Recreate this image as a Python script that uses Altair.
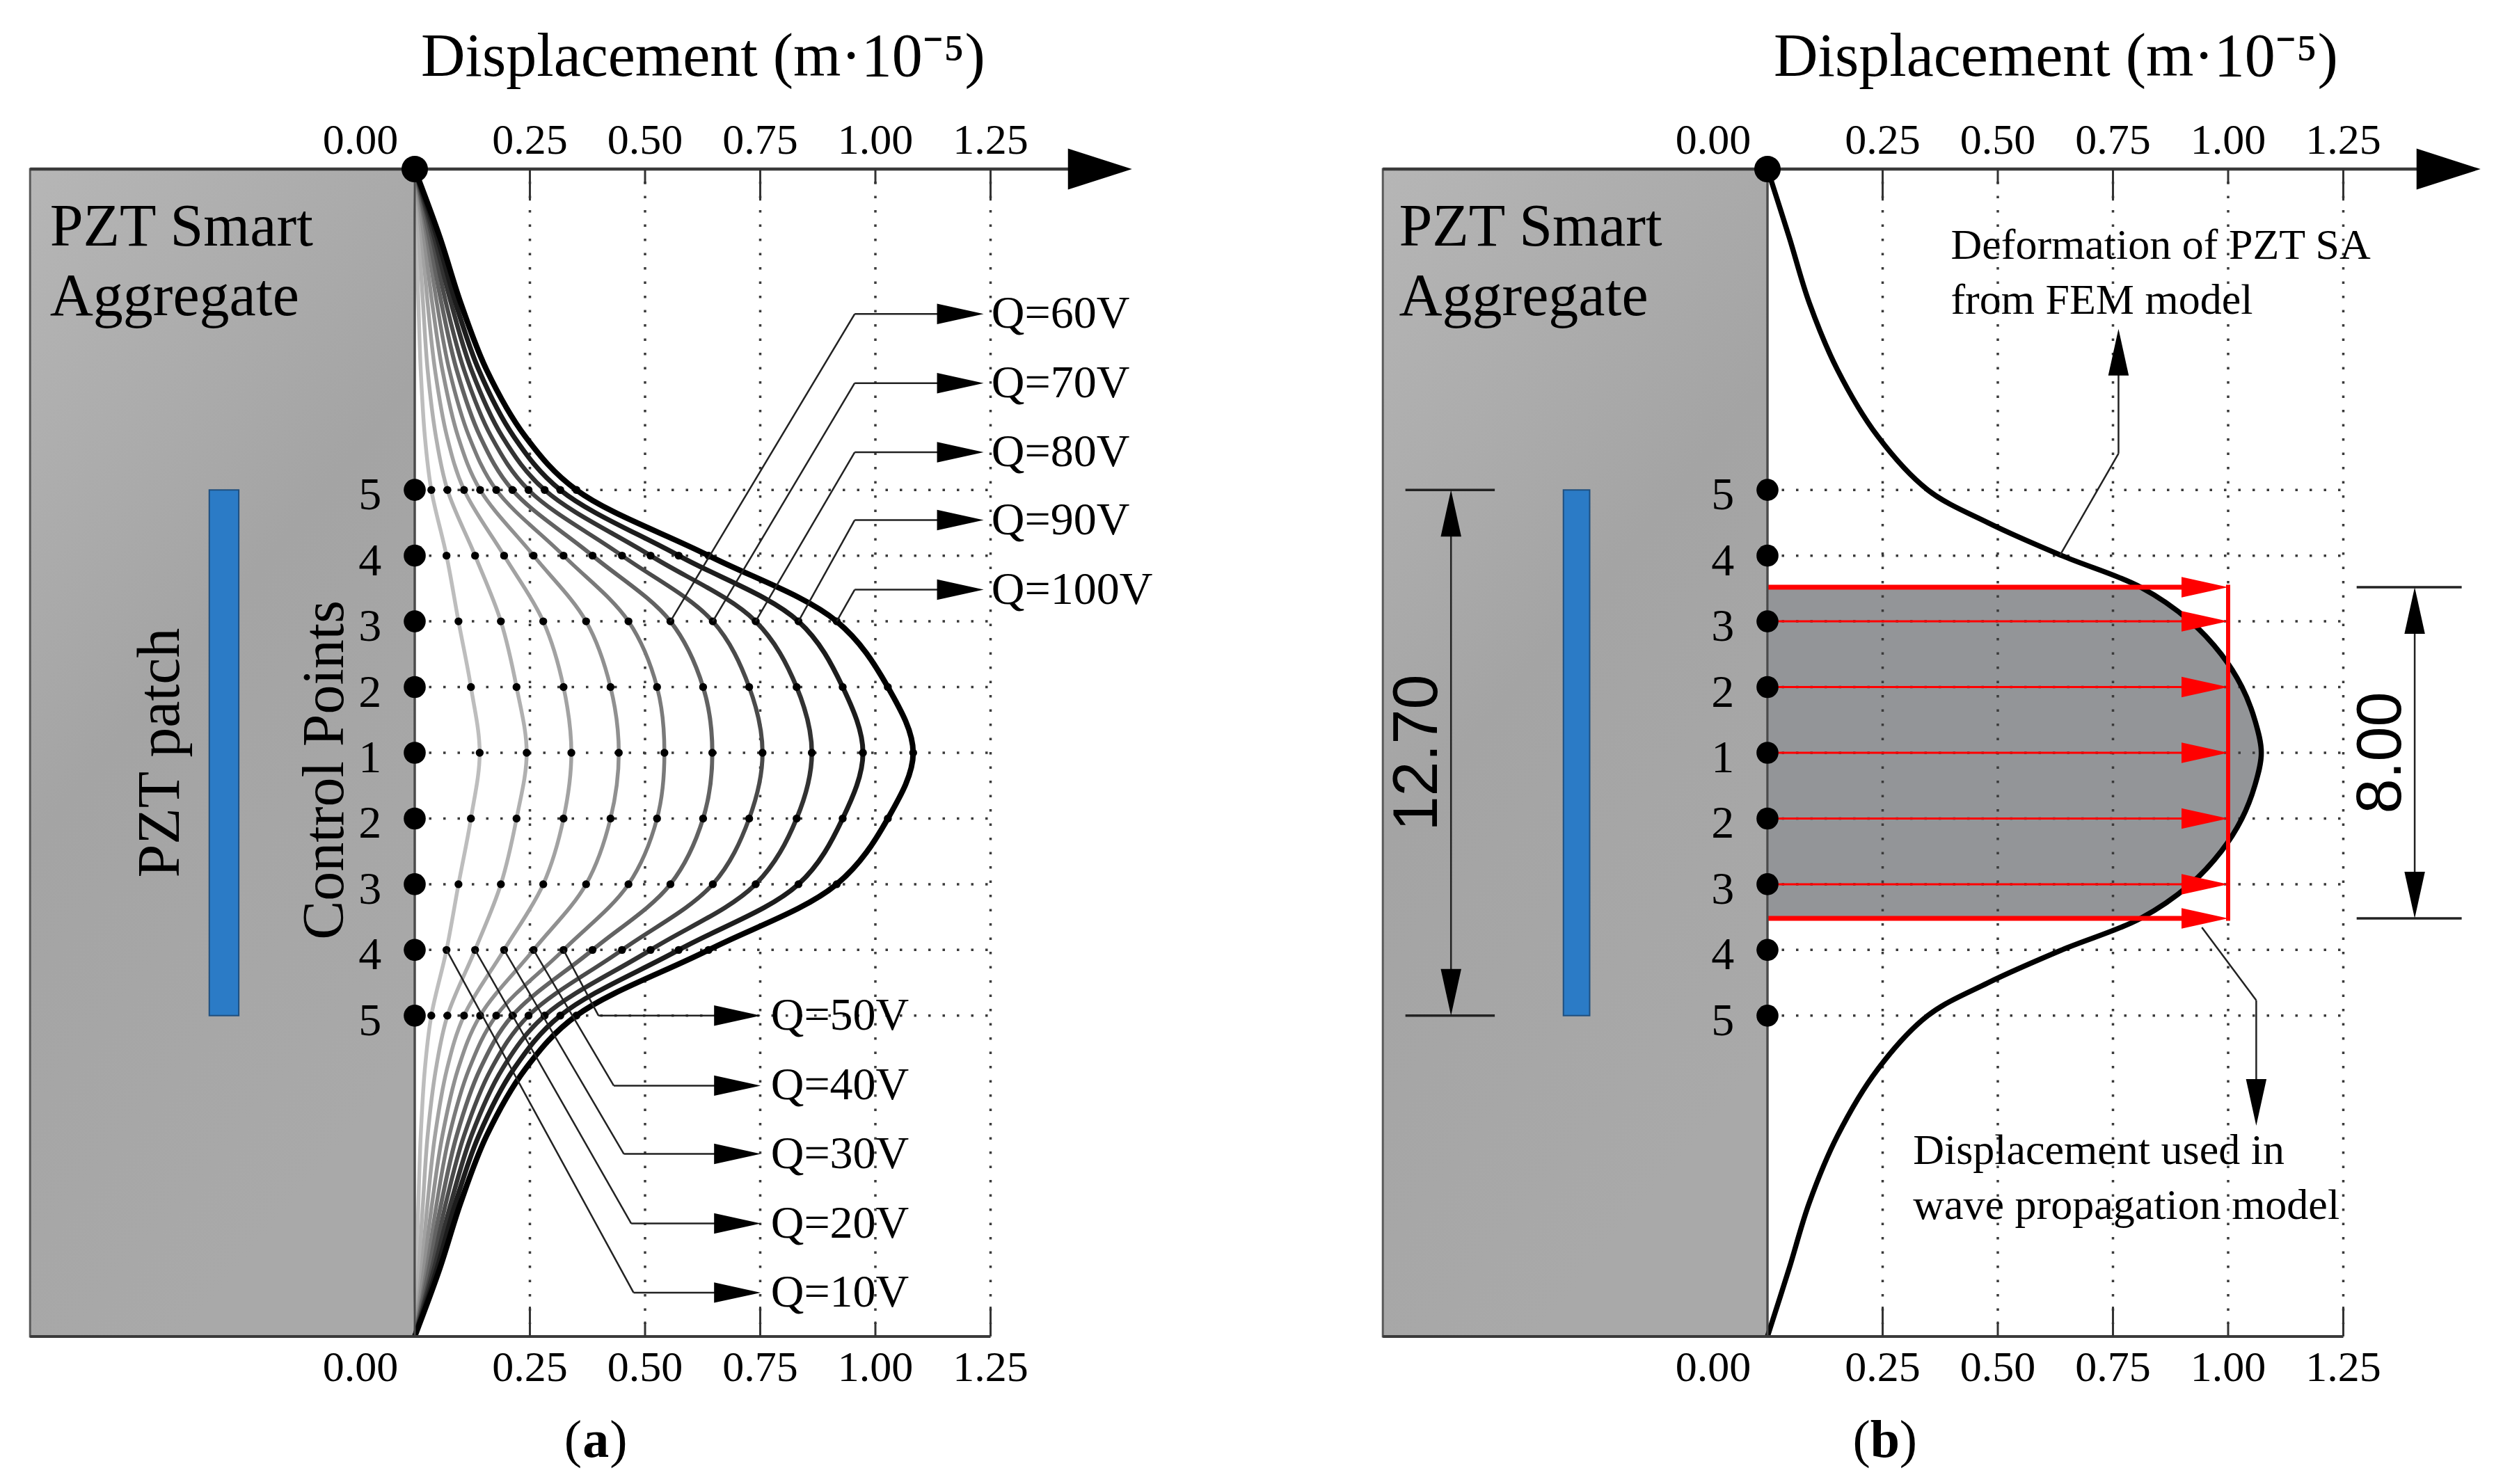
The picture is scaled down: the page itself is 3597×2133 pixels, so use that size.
import altair as alt
import pandas as pd

# ------------------------------------------------------------------
# DATA
# ------------------------------------------------------------------
Q_NAMES = ["Q=10V", "Q=20V", "Q=30V", "Q=40V", "Q=50V",
           "Q=60V", "Q=70V", "Q=80V", "Q=90V", "Q=100V"]

# heights (mm from the centre of the SA) at which the curves were read, top half
# (the curves are symmetric about the centre line, control point 1)
Y_READ = [14.1, 12.47, 10.86, 9.25, 7.64, 6.35, 4.7625, 3.175, 1.5875, 0.0]

# displacement (m*10^-5) at those heights, panel (a)
Q10 = [0.0, 0.004, 0.008, 0.013, 0.022, 0.036, 0.069, 0.095, 0.122, 0.141]
Q20 = [0.0, 0.009, 0.018, 0.028, 0.046, 0.071, 0.131, 0.187, 0.221, 0.243]
Q30 = [0.0, 0.015, 0.028, 0.044, 0.070, 0.107, 0.194, 0.279, 0.323, 0.340]
Q40 = [0.0, 0.020, 0.038, 0.060, 0.094, 0.142, 0.258, 0.372, 0.425, 0.443]
Q50 = [0.0, 0.026, 0.048, 0.075, 0.118, 0.177, 0.323, 0.464, 0.526, 0.542]
Q60 = [0.0, 0.031, 0.058, 0.091, 0.142, 0.212, 0.386, 0.555, 0.626, 0.646]
Q70 = [0.0, 0.037, 0.068, 0.107, 0.166, 0.247, 0.450, 0.647, 0.726, 0.755]
Q80 = [0.0, 0.042, 0.079, 0.123, 0.190, 0.282, 0.512, 0.740, 0.829, 0.862]
Q90 = [0.0, 0.048, 0.089, 0.139, 0.215, 0.316, 0.573, 0.833, 0.929, 0.973]
Q100 = [0.0, 0.054, 0.100, 0.156, 0.240, 0.351, 0.638, 0.916, 1.027, 1.082]
CURVES_A = [Q10, Q20, Q30, Q40, Q50, Q60, Q70, Q80, Q90, Q100]

# panel (b): deformation of the PZT SA from the FEM model (top half, symmetric)
B_Y = [14.1, 12.46, 10.86, 9.25, 7.65, 6.35, 5.56, 4.7625, 4.0, 3.175, 2.38,
       1.5875, 0.79, 0.0]
B_X = [0.0, 0.047, 0.091, 0.152, 0.239, 0.348, 0.478, 0.639, 0.810, 0.918, 0.985,
       1.030, 1.058, 1.072]

CP_LABELS = ["5", "4", "3", "2", "1", "2", "3", "4", "5"]
CP_MM = [6.35, 4.7625, 3.175, 1.5875, 0.0, -1.5875, -3.175, -4.7625, -6.35]

TICK_VALUES = [0.0, 0.25, 0.5, 0.75, 1.0, 1.25]
TICK_LABELS = ["0.00", "0.25", "0.50", "0.75", "1.00", "1.25"]

PATCH_LEN = 12.70      # mm
USED_LEN = 8.00        # mm
USED_DISP = 1.00       # m*10^-5
TITLE = "Displacement (m\u00b710\u207b\u2075)"

# ------------------------------------------------------------------
# STYLE / LAYOUT
# ------------------------------------------------------------------
SERIF = "Liberation Serif"
SANS = "Liberation Sans"
CURVE_COLORS = ["#bdbdbd", "#b0b0b0", "#a2a2a2", "#909090", "#7a7a7a",
                "#626262", "#4a4a4a", "#323232", "#1c1c1c", "#000000"]
CURVE_WIDTHS = [5.5, 5.5, 5.5, 5.5, 5.5, 6, 6, 6.5, 7, 8]
PXU = 662.0
PXMM = 59.5
H = 2117
W_A, W_B = 1780, 1800
ZERO_A, ZERO_B = 588, 752
MID = 1074
YS = alt.Scale(domain=[-(H - MID) / PXMM, MID / PXMM], nice=False, zero=False)
XS_A = alt.Scale(domain=[-ZERO_A / PXU, (W_A - ZERO_A) / PXU], nice=False, zero=False)
XS_B = alt.Scale(domain=[-ZERO_B / PXU, (W_B - ZERO_B) / PXU], nice=False, zero=False)
TOP, BOT = 14.1, -14.1
SLAB_LEFT = -0.835
ARROW = "M 0 0 L -1 -0.22 L -1 0.22 Z"
ARROW_SIZE = 134 ** 2
AXIS_ARROW = "M 0 0 L -1 -0.32 L -1 0.32 Z"
AXIS_ARROW_SIZE = 184 ** 2
DOTTED = dict(strokeDash=[3.5, 17], strokeWidth=3.5, color="#3a3a3a")
LEADER = dict(color="#222222", strokeWidth=2.5)
RED = "#ff0000"
SLAB_FILL = alt.LinearGradient(
    gradient="linear", x1=0, y1=0, x2=0.4, y2=1,
    stops=[alt.GradientStop(color="#b6b6b6", offset=0),
           alt.GradientStop(color="#a4a4a4", offset=0.5),
           alt.GradientStop(color="#a9a9a9", offset=1)])


def D(**cols):
    n = max(len(v) if isinstance(v, (list, tuple)) else 1 for v in cols.values())
    return pd.DataFrame({k: (list(v) if isinstance(v, (list, tuple)) else [v] * n)
                         for k, v in cols.items()})


def enc(xs, df):
    e = {"x": alt.X("x:Q", scale=xs, axis=None), "y": alt.Y("y:Q", scale=YS, axis=None)}
    if "x2" in df.columns:
        e["x2"] = alt.X2("x2:Q")
    if "y2" in df.columns:
        e["y2"] = alt.Y2("y2:Q")
    return e


def rule(xs, df, **kw):
    return alt.Chart(df).mark_rule(**kw).encode(**enc(xs, df))


def rect(xs, df, **kw):
    return alt.Chart(df).mark_rect(**kw).encode(**enc(xs, df))


def dot(xs, df, **kw):
    kw.setdefault("filled", True)
    kw.setdefault("opacity", 1)
    kw.setdefault("color", "black")
    kw.setdefault("strokeWidth", 0)
    return alt.Chart(df).mark_point(**kw).encode(**enc(xs, df))


def text(xs, df, **kw):
    kw.setdefault("font", SERIF)
    kw.setdefault("color", "black")
    kw.setdefault("baseline", "alphabetic")
    e = enc(xs, df)
    e["text"] = alt.Text("t:N")
    return alt.Chart(df).mark_text(**kw).encode(**e)


def line(xs, df, **kw):
    e = enc(xs, df)
    e["order"] = alt.Order("i:Q")
    return alt.Chart(df).mark_line(**kw).encode(**e)


def mirror(ys, xs):
    yy = list(ys) + [-v for v in reversed(ys[:-1])]
    xx = list(xs) + list(reversed(xs[:-1]))
    return yy, xx


def back_layers(xs, bar):
    half = PATCH_LEN / 2
    return [
        rect(xs, D(x=SLAB_LEFT, x2=0.0, y=TOP, y2=BOT), fill=SLAB_FILL,
             stroke="#5a5a5a", strokeWidth=3),
        rect(xs, D(x=bar[0], x2=bar[1], y=half, y2=-half), fill="#2b7bc6",
             stroke="#1f4f7f", strokeWidth=2),
    ]


def grid_layers(xs):
    return [
        rule(xs, D(x=TICK_VALUES[1:], y=TOP - 0.3, y2=BOT + 0.3), **DOTTED),
        rule(xs, D(x=0.0, x2=1.25, y=CP_MM), **DOTTED),
    ]


def front_layers(xs, arrow_tip, smart_x, title_x, cap_x, letter, cap_half):
    major = [0.25, 0.75, 1.25]
    minor = [0.5, 1.0]
    label_x = [-0.118] + TICK_VALUES[1:]
    tick = dict(color="#333333", strokeWidth=3)
    return [
        rule(xs, D(x=0.0, y=TOP, y2=BOT), color="#4a4a4a", strokeWidth=3),
        rule(xs, D(x=SLAB_LEFT, x2=arrow_tip - 0.05, y=TOP), color="#3a3a3a", strokeWidth=4.5),
        rule(xs, D(x=SLAB_LEFT, x2=1.25, y=BOT), color="#3a3a3a", strokeWidth=4),
        dot(xs, D(x=arrow_tip, y=TOP), shape=AXIS_ARROW, size=AXIS_ARROW_SIZE),
        rule(xs, D(x=major, y=TOP, y2=TOP - 0.76), **tick),
        rule(xs, D(x=minor, y=TOP, y2=TOP - 0.36), **tick),
        rule(xs, D(x=major, y=BOT, y2=BOT + 0.72), **tick),
        rule(xs, D(x=minor, y=BOT, y2=BOT + 0.36), **tick),
        text(xs, D(x=label_x, y=14.47, t=TICK_LABELS), fontSize=62, align="center"),
        text(xs, D(x=label_x, y=-15.18, t=TICK_LABELS), fontSize=62, align="center"),
        dot(xs, D(x=0.0, y=CP_MM), shape="circle", size=1000),
        dot(xs, D(x=0.0, y=TOP), shape="circle", size=1450),
        text(xs, D(x=-0.097, y=CP_MM, t=CP_LABELS), fontSize=66, align="center",
             baseline="middle", dy=8),
        text(xs, D(x=smart_x, y=[12.25, 10.57], t=["PZT Smart", "Aggregate"]),
             fontSize=86, align="left"),
        text(xs, D(x=title_x, y=16.35, t=TITLE), fontSize=88, align="center"),
        text(xs, D(x=cap_x, y=-17.0, t="("), fontSize=76, align="right", dx=-cap_half),
        text(xs, D(x=cap_x, y=-17.0, t=")"), fontSize=76, align="left", dx=cap_half),
        text(xs, D(x=cap_x, y=-17.0, t=letter), fontSize=76, align="center",
             fontWeight="bold"),
    ]


# ------------------------------------------------------------------
# PANEL (a)
# ------------------------------------------------------------------
xa = XS_A
curves_a = []
pts_rows = {"x": [], "y": []}
for k, vals in enumerate(CURVES_A):
    yy, xx = mirror(Y_READ, vals)
    df = pd.DataFrame({"x": xx, "y": yy, "i": range(len(xx))})
    curves_a.append(line(xa, df, color=CURVE_COLORS[k], strokeWidth=CURVE_WIDTHS[k],
                         interpolate="catmull-rom"))
    for y in CP_MM:
        pts_rows["x"].append(vals[Y_READ.index(abs(y))])
        pts_rows["y"].append(y)
curve_pts_a = dot(xa, pd.DataFrame(pts_rows), shape="circle", size=130)

UP_LEVELS = [10.60, 8.93, 7.26, 5.62, 3.94]          # Q=60..100V label rows
LOW_LEVELS = [-6.35, -8.04, -9.69, -11.37, -13.04]   # Q=50..10V label rows
LOW_ELBOW = [0.399, 0.432, 0.454, 0.470, 0.475]
UP_ELBOW, UP_TIP, UP_TXT = 0.955, 1.235, 1.252
LOW_TIP, LOW_TXT = 0.751, 0.773

up_idx = [5, 6, 7, 8, 9]
low_idx = [4, 3, 2, 1, 0]
up_start = [CURVES_A[k][Y_READ.index(3.175)] for k in up_idx]
low_start = [CURVES_A[k][Y_READ.index(4.7625)] for k in low_idx]

leaders_a = [
    rule(xa, D(x=up_start, y=3.175, x2=UP_ELBOW, y2=UP_LEVELS), **LEADER),
    rule(xa, D(x=UP_ELBOW, x2=UP_TIP - 0.05, y=UP_LEVELS), **LEADER),
    dot(xa, D(x=UP_TIP, y=UP_LEVELS), shape=ARROW, size=ARROW_SIZE),
    text(xa, D(x=UP_TXT, y=UP_LEVELS, t=[Q_NAMES[k] for k in up_idx]), fontSize=66,
         align="left", baseline="middle"),
    rule(xa, D(x=low_start, y=-4.7625, x2=LOW_ELBOW, y2=LOW_LEVELS), **LEADER),
    rule(xa, D(x=LOW_ELBOW, x2=LOW_TIP - 0.05, y=LOW_LEVELS), **LEADER),
    dot(xa, D(x=LOW_TIP, y=LOW_LEVELS), shape=ARROW, size=ARROW_SIZE),
    text(xa, D(x=LOW_TXT, y=LOW_LEVELS, t=[Q_NAMES[k] for k in low_idx]), fontSize=66,
         align="left", baseline="middle"),
]

labels_a = [
    text(xa, D(x=-0.551, y=0.0, t="PZT patch"), fontSize=86, align="center",
         baseline="middle", angle=270),
    text(xa, D(x=-0.194, y=-0.42, t="Control Points"), fontSize=84, align="center",
         baseline="middle", angle=270),
]

panel_a = alt.layer(
    *back_layers(xa, (-0.446, -0.382)),
    *grid_layers(xa),
    *curves_a,
    curve_pts_a,
    *front_layers(xa, 1.557, -0.792, 0.626, 0.393, "a", 20),
    *labels_a,
    *leaders_a,
).properties(width=W_A, height=H)

# ------------------------------------------------------------------
# PANEL (b)
# ------------------------------------------------------------------
xb = XS_B
hu = USED_LEN / 2
hp = PATCH_LEN / 2
by, bx = mirror(B_Y, B_X)
bdf = pd.DataFrame({"x": bx, "y": by, "i": range(len(bx))})
fill_df = bdf[bdf["y"].abs() <= hu + 1e-9].assign(x2=0.0)

fill_b = alt.Chart(fill_df).mark_area(
    orient="horizontal", color="#939598", opacity=1, interpolate="catmull-rom"
).encode(**enc(xb, fill_df))

curve_b = line(xb, bdf, color="black", strokeWidth=7.5, interpolate="catmull-rom")

red_rows = [3.175, 1.5875, 0.0, -1.5875, -3.175]
red_b = [
    rule(xb, D(x=0.0, x2=USED_DISP - 0.05, y=red_rows), color=RED, strokeWidth=3),
    rule(xb, D(x=0.0, x2=USED_DISP - 0.05, y=[hu, -hu]), color=RED, strokeWidth=7),
    rule(xb, D(x=USED_DISP, y=hu + 0.06, y2=-hu - 0.06), color=RED, strokeWidth=6),
    dot(xb, D(x=USED_DISP, y=[hu] + red_rows + [-hu]), shape=ARROW, size=ARROW_SIZE,
        color=RED),
]

dim = dict(color="#222222", strokeWidth=2.5)
dims_b = [
    rule(xb, D(x=-0.687, y=hp - 1.0, y2=-hp + 1.0), **dim),
    rule(xb, D(x=-0.786, x2=-0.592, y=[hp, -hp]), color="#222222", strokeWidth=3.5),
    dot(xb, D(x=-0.687, y=hp), shape=ARROW, size=ARROW_SIZE, angle=270),
    dot(xb, D(x=-0.687, y=-hp), shape=ARROW, size=ARROW_SIZE, angle=90),
    text(xb, D(x=-0.759, y=0.0, t=f"{PATCH_LEN:.2f}"), font=SANS, fontSize=90,
         align="center", baseline="middle", angle=270),
    rule(xb, D(x=1.405, y=hu - 1.0, y2=-hu + 1.0), **dim),
    rule(xb, D(x=1.279, x2=1.507, y=[hu, -hu]), color="#222222", strokeWidth=3.5),
    dot(xb, D(x=1.405, y=hu), shape=ARROW, size=ARROW_SIZE, angle=270),
    dot(xb, D(x=1.405, y=-hu), shape=ARROW, size=ARROW_SIZE, angle=90),
    text(xb, D(x=1.334, y=0.0, t=f"{USED_LEN:.2f}"), font=SANS, fontSize=90,
         align="center", baseline="middle", angle=270),
]

notes_b = [
    text(xb, D(x=0.398, y=[11.93, 10.60], t=["Deformation of PZT SA", "from FEM model"]),
         fontSize=62, align="left"),
    rule(xb, D(x=[0.635, 0.762], y=[4.77, 7.23], x2=[0.762, 0.762], y2=[7.23, 9.3]),
         **LEADER),
    dot(xb, D(x=0.762, y=10.24), shape=ARROW, size=ARROW_SIZE, angle=270),
    text(xb, D(x=0.316, y=[-9.93, -11.26],
               t=["Displacement used in", "wave propagation model"]),
         fontSize=62, align="left"),
    rule(xb, D(x=[0.943, 1.061], y=[-4.22, -5.98], x2=[1.061, 1.061], y2=[-5.98, -8.1]),
         **LEADER),
    dot(xb, D(x=1.061, y=-9.01), shape=ARROW, size=ARROW_SIZE, angle=90),
]

panel_b = alt.layer(
    *back_layers(xb, (-0.443, -0.386)),
    fill_b,
    *grid_layers(xb),
    curve_b,
    *red_b,
    *front_layers(xb, 1.548, -0.80, 0.626, 0.255, "b", 21),
    *dims_b,
    *notes_b,
).properties(width=W_B, height=H)

chart = (
    alt.hconcat(panel_a, panel_b, spacing=0)
    .properties(padding=0, background="white")
    .configure_view(strokeWidth=0)
)

chart.save("out.html", embed_options={"renderer": "svg", "actions": False})
